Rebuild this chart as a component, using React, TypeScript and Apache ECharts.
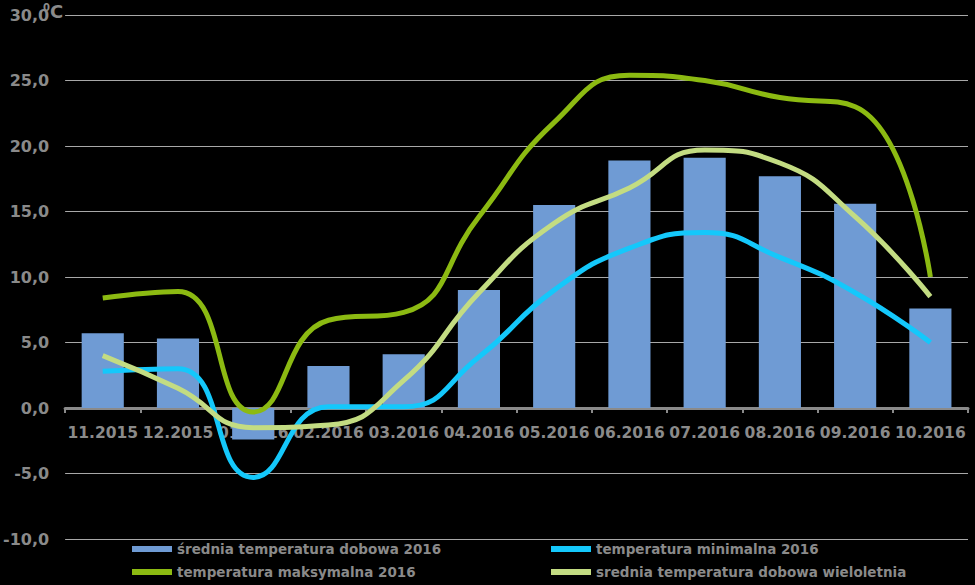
import React, { useEffect, useRef } from "react";
import * as echarts from "echarts";

const categories = ["11.2015", "12.2015", "01.2016", "02.2016", "03.2016", "04.2016", "05.2016", "06.2016", "07.2016", "08.2016", "09.2016", "10.2016"];
const avgDaily2016 = [5.7, 5.3, -2.4, 3.2, 4.1, 9.0, 15.5, 18.9, 19.1, 17.7, 15.6, 7.6];
const minTemp2016 = [2.8, 3.0, -5.3, 0.1, 0.1, 3.9, 9.0, 12.2, 13.4, 11.5, 8.8, 5.0];
const maxTemp2016 = [8.4, 8.9, -0.3, 6.7, 7.3, 14.6, 21.8, 25.4, 25.0, 23.7, 23.0, 10.0];
const avgLongTerm = [4.0, 1.5, -1.5, -1.3, 2.1, 8.8, 14.1, 16.8, 19.7, 18.7, 14.6, 8.5];

const NAMES = {
  bar: "średnia temperatura dobowa 2016",
  min: "temperatura minimalna 2016",
  max: "temperatura maksymalna 2016",
  lt: "srednia temperatura dobowa wieloletnia",
};

const TEXT = "#8a8a8a";
const FONT = "DejaVu Sans";

export default function App() {
  const ref = useRef<HTMLDivElement>(null);
  useEffect(() => {
    const chart = echarts.init(ref.current!, null, { renderer: "svg" });
    const legendText = { color: TEXT, fontFamily: FONT, fontWeight: "bold", fontSize: 13.5 };
    const legendCommon = {
      orient: "vertical",
      top: 542,
      height: 50,
      padding: 0,
      itemWidth: 40,
      itemHeight: 6,
      itemGap: 9,
      icon: "rect",
      textStyle: legendText,
    };
    chart.setOption({
      animation: false,
      backgroundColor: "#000000",
      grid: { left: 63, right: 7, top: 15, bottom: 46, containLabel: false },
      legend: [
        { ...legendCommon, data: [NAMES.bar, NAMES.max], left: 132 },
        { ...legendCommon, data: [NAMES.min, NAMES.lt], left: 551 },
      ],
      xAxis: {
        type: "category",
        data: categories,
        position: "bottom",
        offset: -131,
        axisLine: { onZero: false, lineStyle: { color: "#8a8a8a", width: 3 } },
        axisTick: { show: true, length: 5, lineStyle: { color: "#8a8a8a", width: 2 } },
        axisLabel: { color: TEXT, fontFamily: FONT, fontWeight: "bold", fontSize: 15.5, margin: 17, interval: 0 },
        z: 0,
      },
      yAxis: {
        type: "value",
        min: -10,
        max: 30,
        interval: 5,
        axisLine: { show: false },
        axisTick: { show: false },
        splitLine: { lineStyle: { color: "#a8a8a8", width: 1 } },
        axisLabel: {
          color: TEXT,
          fontFamily: FONT,
          fontWeight: "bold",
          fontSize: 16,
          margin: 16,
          formatter: (v: number) => v.toFixed(1).replace(".", ","),
        },
      },
      graphic: [
        { type: "text", left: 43, top: 2, style: { text: "0", fill: TEXT, font: `bold 10px ${FONT}` } },
        { type: "text", left: 50, top: 2, style: { text: "C", fill: TEXT, font: `bold 18px ${FONT}` } },
      ],
      series: [
        {
          name: NAMES.bar,
          type: "bar",
          data: avgDaily2016,
          barCategoryGap: "44%",
          itemStyle: { color: "#6f9bd4" },
          z: 1,
        },
        {
          name: NAMES.min,
          type: "line",
          data: minTemp2016,
          smooth: 0.5,
          showSymbol: false,
          lineStyle: { color: "#14c8fb", width: 5 },
          itemStyle: { color: "#14c8fb" },
          z: 3,
        },
        {
          name: NAMES.max,
          type: "line",
          data: maxTemp2016,
          smooth: 0.5,
          showSymbol: false,
          lineStyle: { color: "#8cba12", width: 5 },
          itemStyle: { color: "#8cba12" },
          z: 3,
        },
        {
          name: NAMES.lt,
          type: "line",
          data: avgLongTerm,
          smooth: 0.5,
          showSymbol: false,
          lineStyle: { color: "#c3dc82", width: 5 },
          itemStyle: { color: "#c3dc82" },
          z: 3,
        },
      ],
    });
    return () => chart.dispose();
  }, []);
  return <div ref={ref} style={{ width: 975, height: 585, position: "fixed", left: 0, top: 0 }} />;
}
